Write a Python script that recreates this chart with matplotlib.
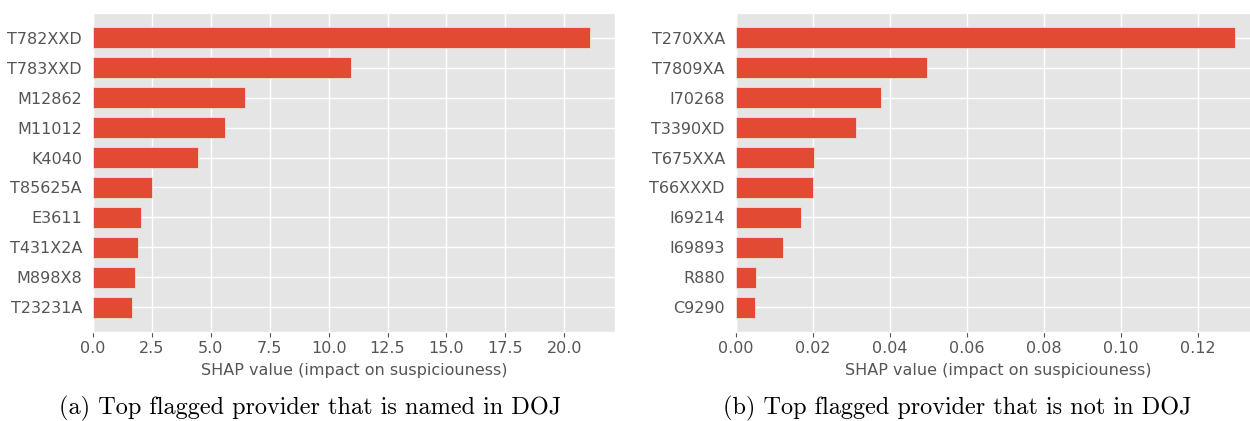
import matplotlib
matplotlib.use("Agg")
import matplotlib.pyplot as plt

plt.style.use("ggplot")

labels_a = ["T782XXD", "T783XXD", "M12862", "M11012", "K4040",
            "T85625A", "E3611", "T431X2A", "M898X8", "T23231A"]
values_a = [21.1, 10.94, 6.46, 5.62, 4.46, 2.51, 2.02, 1.92, 1.80, 1.65]

labels_b = ["T270XXA", "T7809XA", "I70268", "T3390XD", "T675XXA",
            "T66XXXD", "I69214", "I69893", "R880", "C9290"]
values_b = [0.1296, 0.0496, 0.0377, 0.0312, 0.0203,
            0.0200, 0.0169, 0.0122, 0.0052, 0.0049]

xticks_a = [0.0, 2.5, 5.0, 7.5, 10.0, 12.5, 15.0, 17.5, 20.0]
xticks_b = [0.00, 0.02, 0.04, 0.06, 0.08, 0.10, 0.12]

xlabel = "SHAP value (impact on suspiciouness)"
caption_a = "(a) Top flagged provider that is named in DOJ"
caption_b = "(b) Top flagged provider that is not in DOJ"

W, H = 1250, 421
fig = plt.figure(figsize=(W / 100, H / 100), dpi=100)

def px_axes(l, r, t, b):
    return [l / W, (H - b) / H, (r - l) / W, (b - t) / H]

ax_a = fig.add_axes(px_axes(93, 615, 13, 332))
ax_b = fig.add_axes(px_axes(736, 1260, 13, 332))

for ax, labels, values, xt, fmt in [
    (ax_a, labels_a, values_a, xticks_a, "{:.1f}"),
    (ax_b, labels_b, values_b, xticks_b, "{:.2f}"),
]:
    pos = list(range(len(labels)))[::-1]
    ax.barh(pos, values, height=0.7, color="#E24A33",
            edgecolor="#EEEEEE", linewidth=0.5, zorder=3)
    ax.set_yticks(pos)
    ax.set_yticklabels(labels)
    ax.set_xticks(xt)
    ax.set_xticklabels([fmt.format(v) for v in xt])
    ax.set_xlim(0, max(values) * 1.05)
    ax.tick_params(axis="y", length=0, pad=8, labelsize=11.5, colors="#555555")
    ax.tick_params(axis="x", length=3.5, pad=3, labelsize=11.5, colors="#555555")
    ax.set_xlabel(xlabel, fontsize=11.5, color="#555555", labelpad=5)
    ax.grid(True, color="white", linewidth=1.0, zorder=0)
    ax.set_axisbelow(True)

fig.text(310 / W, 6.5 / H, caption_a, ha="center", va="baseline",
         family="cmr10", fontsize=17.5, color="black")
fig.text(957 / W, 6.5 / H, caption_b, ha="center", va="baseline",
         family="cmr10", fontsize=17.5, color="black")

fig.savefig("out.png", dpi=100, facecolor="white")
